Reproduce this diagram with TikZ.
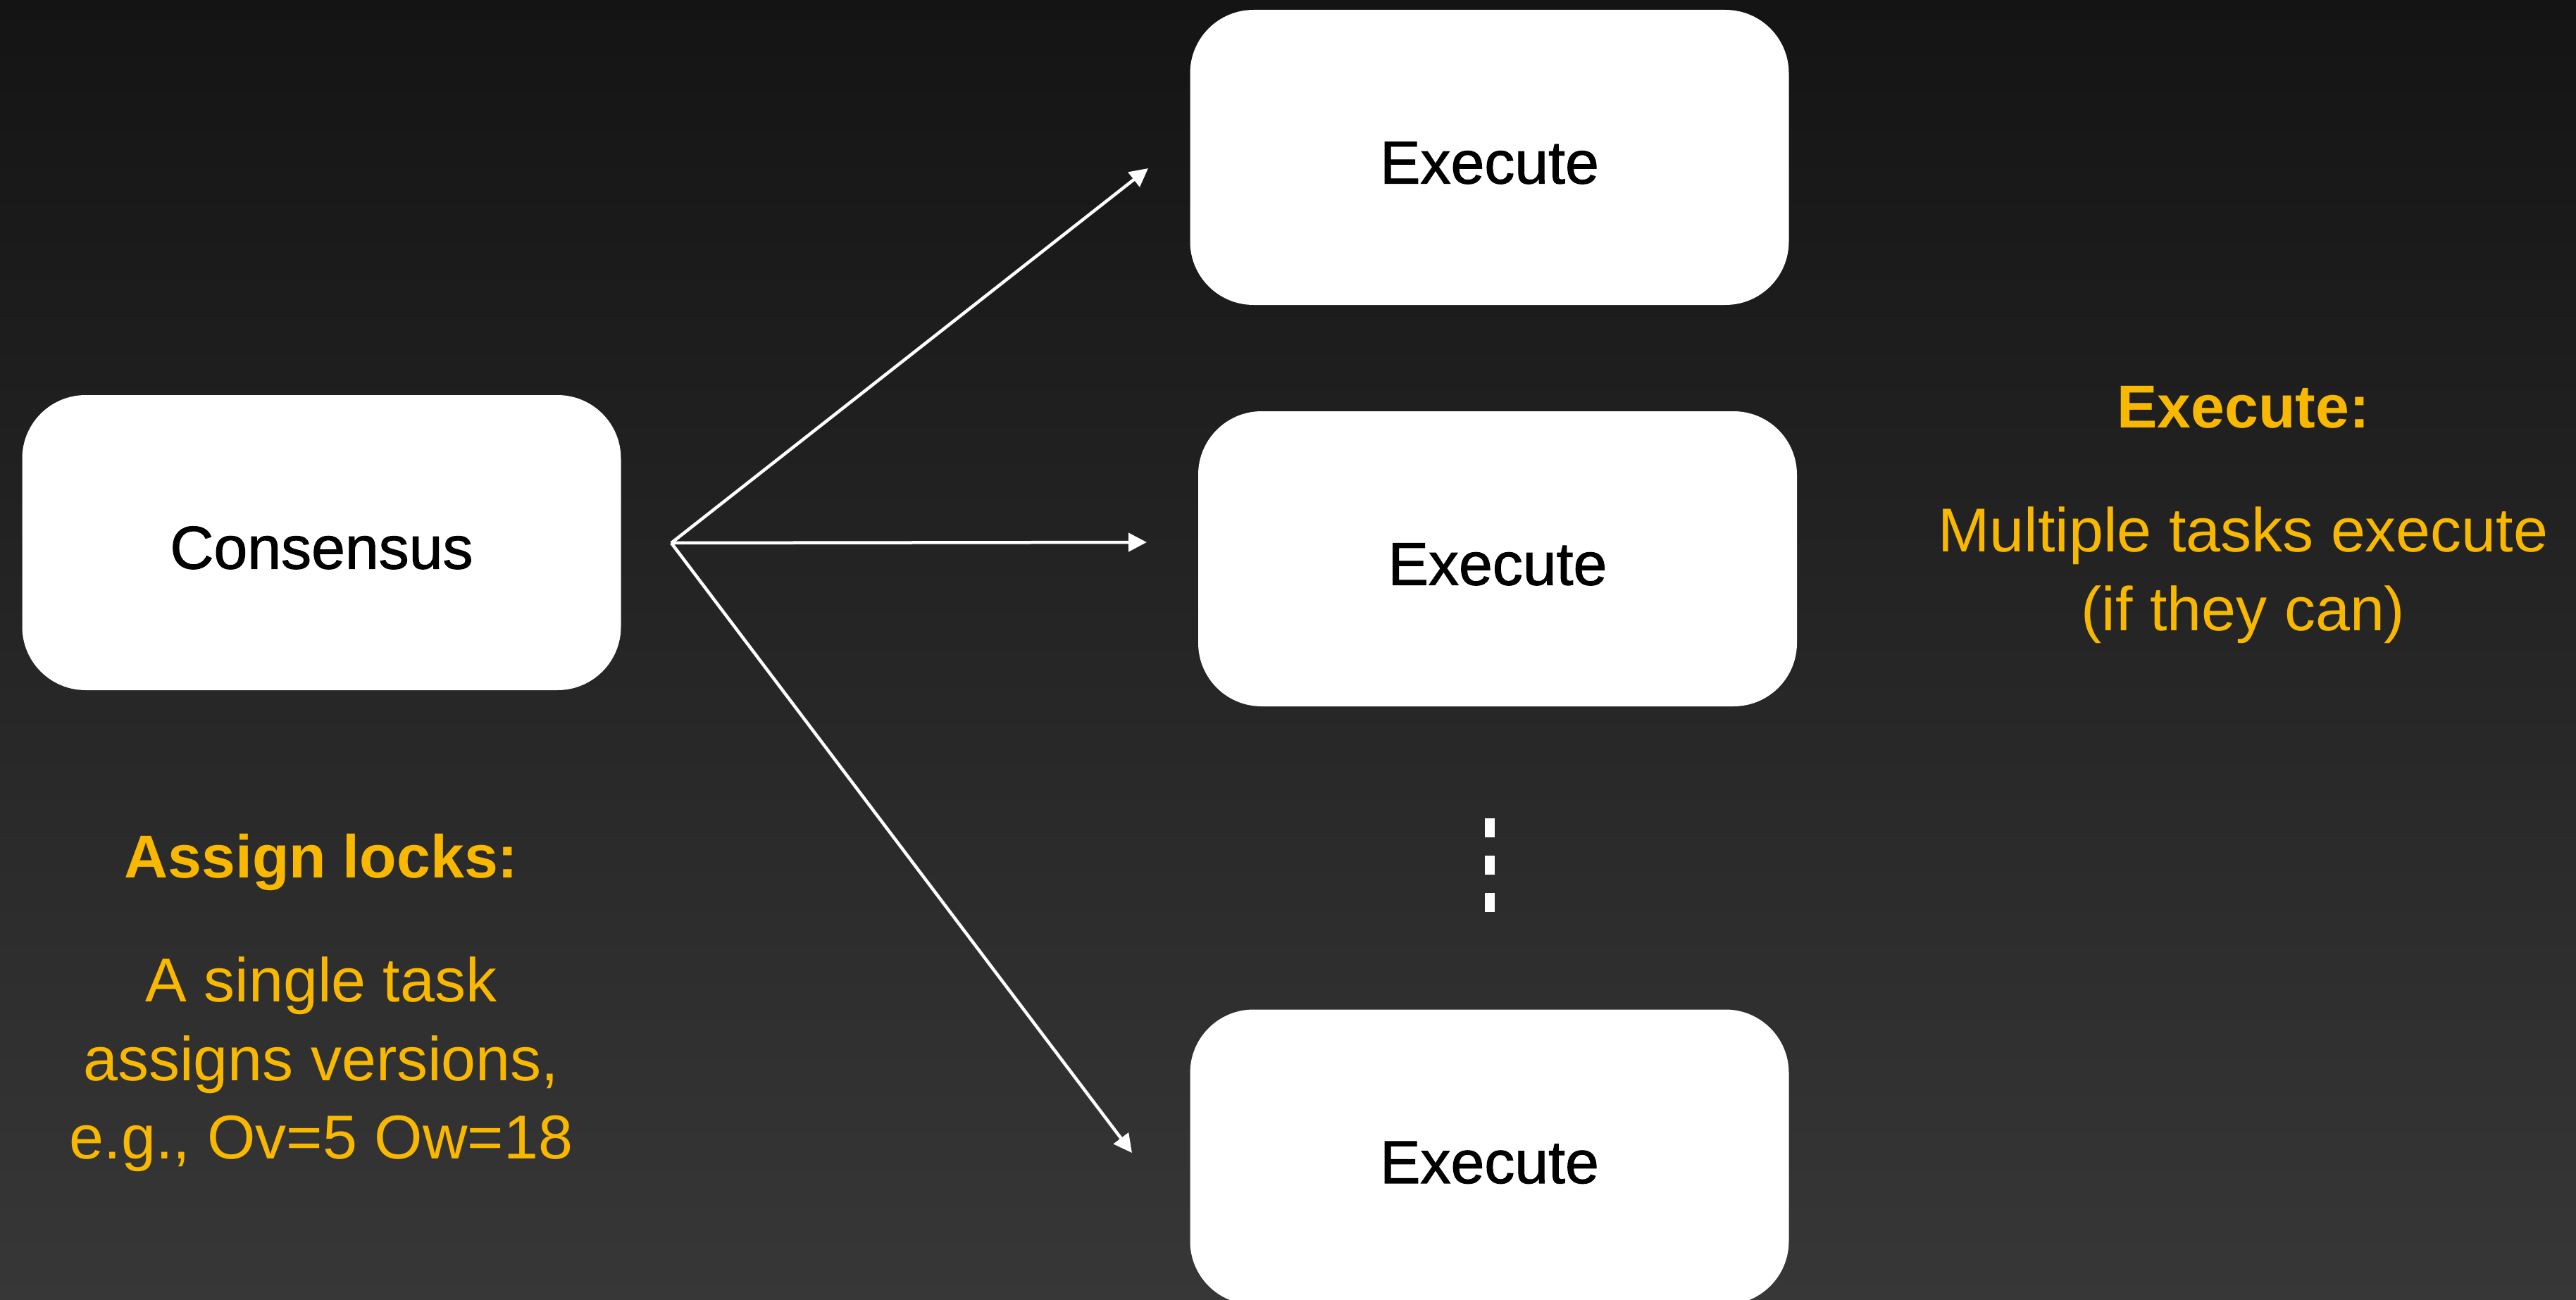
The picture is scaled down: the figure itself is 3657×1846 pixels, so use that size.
\documentclass[tikz,border=0pt]{standalone}
\usepackage{fontspec}
\setmainfont{Liberation Sans}
\newfontfamily\cardfont[FakeBold=1.2]{Liberation Sans}
\usetikzlibrary{arrows.meta}

\definecolor{bgtop}{HTML}{141414}
\definecolor{bgbot}{HTML}{373737}
\definecolor{amber}{HTML}{F9B800}

\begin{document}
\begin{tikzpicture}[x=1pt, y=-1pt,
  card/.style={fill=white, draw=none, rounded corners=90pt,
    minimum width=850pt, minimum height=419pt, inner sep=0pt,
    text height=74pt, text depth=0pt, text=black,
    font=\cardfont\fontsize{86}{100}\selectfont},
  link/.style={draw=white, line width=4.5pt,
    -{Triangle[length=26pt, width=26pt]}},
  heading/.style={anchor=base, text=amber, inner sep=0pt,
    font=\fontsize{86}{100}\selectfont\bfseries},
  body/.style={anchor=base, text=amber, inner sep=0pt,
    font=\fontsize{88}{112}\selectfont},
  vdots/.style={draw=white, line width=14pt, dash pattern=on 27pt off 26pt}]

  % canvas with a vertical dark gradient
  \useasboundingbox (0,0) rectangle (3657,1846);
  \shade[top color=bgtop, bottom color=bgbot] (0,0) rectangle (3657,1846);

  % stages
  \node[card] (consensus) at (456.5,770.5) {Consensus};
  \node[card] (exec1) at (2114.5,223.5) {Execute};
  \node[card] (exec2) at (2126,793.5) {Execute};
  \node[card] (exec3) at (2114.5,1643) {Execute};

  % fan-out from consensus to the executors
  \coordinate (fan) at (953,771);
  \coordinate (tip1) at (1630,239);
  \coordinate (tip2) at (1628,770);
  \coordinate (tip3) at (1607,1637);
  \draw[link] (fan) -- (tip1);
  \draw[link] (fan) -- (tip2);
  \draw[link] (fan) -- (tip3);

  % vertical ellipsis between executors
  \coordinate (dotsTop) at (2115,1162);
  \coordinate (dotsBot) at (2115,1296);
  \draw[vdots] (dotsTop) -- (dotsBot);

  % left caption
  \node[heading] (lockHead) at (456,1246.5) {Assign locks:};
  \node[body] (lockL1) at (456,1422) {A single task};
  \node[body] (lockL2) at (456,1534) {assigns versions,};
  \node[body] (lockL3) at (456,1645.5) {e.g., Ov=5 Ow=18};

  % right caption
  \node[heading] (execHead) at (3184.5,607) {Execute:};
  \node[body] (execL1) at (3184.5,783) {Multiple tasks execute};
  \node[body] (execL2) at (3184.5,895) {(if they can)};
\end{tikzpicture}
\end{document}
